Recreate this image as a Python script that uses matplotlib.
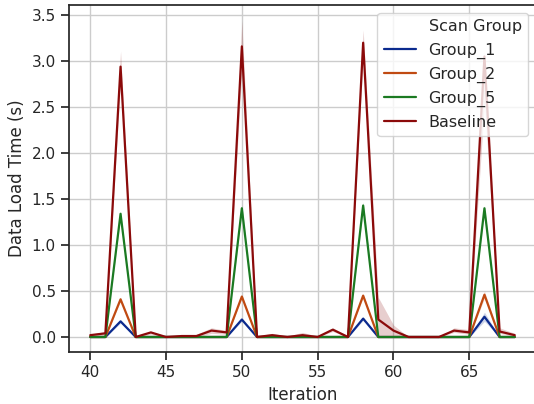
import numpy as np
import matplotlib
matplotlib.use("Agg")
import matplotlib.pyplot as plt
import seaborn as sns
from matplotlib.lines import Line2D

# Data: mean load time per iteration and confidence band per scan group
iterations = list(range(40, 69))

group1_mean = [0.0, 0.0, 0.17, 0.0, 0.0, 0.0, 0.0, 0.0, 0.0, 0.0,
               0.19, 0.0, 0.0, 0.0, 0.0, 0.0, 0.0, 0.0, 0.20, 0.0,
               0.0, 0.0, 0.0, 0.0, 0.0, 0.0, 0.22, 0.0, 0.0]
group1_lo = [0.0, 0.0, 0.15, 0.0, 0.0, 0.0, 0.0, 0.0, 0.0, 0.0,
             0.17, 0.0, 0.0, 0.0, 0.0, 0.0, 0.0, 0.0, 0.18, 0.0,
             0.0, 0.0, 0.0, 0.0, 0.0, 0.0, 0.17, 0.0, 0.0]
group1_hi = [0.0, 0.0, 0.19, 0.0, 0.0, 0.0, 0.0, 0.0, 0.0, 0.0,
             0.21, 0.0, 0.0, 0.0, 0.0, 0.0, 0.0, 0.0, 0.22, 0.0,
             0.0, 0.0, 0.0, 0.0, 0.0, 0.0, 0.27, 0.0, 0.0]

group2_mean = [0.0, 0.0, 0.41, 0.0, 0.0, 0.0, 0.0, 0.0, 0.0, 0.0,
               0.44, 0.0, 0.0, 0.0, 0.0, 0.0, 0.0, 0.0, 0.45, 0.0,
               0.0, 0.0, 0.0, 0.0, 0.0, 0.0, 0.46, 0.0, 0.0]
group2_lo = [0.0, 0.0, 0.39, 0.0, 0.0, 0.0, 0.0, 0.0, 0.0, 0.0,
             0.42, 0.0, 0.0, 0.0, 0.0, 0.0, 0.0, 0.0, 0.43, 0.0,
             0.0, 0.0, 0.0, 0.0, 0.0, 0.0, 0.42, 0.0, 0.0]
group2_hi = [0.0, 0.0, 0.43, 0.0, 0.0, 0.0, 0.0, 0.0, 0.0, 0.0,
             0.46, 0.0, 0.0, 0.0, 0.0, 0.0, 0.0, 0.0, 0.47, 0.0,
             0.0, 0.0, 0.0, 0.0, 0.0, 0.0, 0.50, 0.0, 0.0]

group5_mean = [0.0, 0.0, 1.34, 0.0, 0.0, 0.0, 0.0, 0.0, 0.0, 0.0,
               1.40, 0.0, 0.0, 0.0, 0.0, 0.0, 0.0, 0.0, 1.43, 0.0,
               0.0, 0.0, 0.0, 0.0, 0.0, 0.0, 1.40, 0.0, 0.0]
group5_lo = [0.0, 0.0, 1.31, 0.0, 0.0, 0.0, 0.0, 0.0, 0.0, 0.0,
             1.36, 0.0, 0.0, 0.0, 0.0, 0.0, 0.0, 0.0, 1.39, 0.0,
             0.0, 0.0, 0.0, 0.0, 0.0, 0.0, 1.37, 0.0, 0.0]
group5_hi = [0.0, 0.0, 1.37, 0.0, 0.0, 0.0, 0.0, 0.0, 0.0, 0.0,
             1.44, 0.0, 0.0, 0.0, 0.0, 0.0, 0.0, 0.0, 1.47, 0.0,
             0.0, 0.0, 0.0, 0.0, 0.0, 0.0, 1.43, 0.0, 0.0]

baseline_mean = [0.02, 0.04, 2.94, 0.0, 0.05, 0.0, 0.01, 0.01, 0.07, 0.05,
                 3.16, 0.0, 0.02, 0.0, 0.02, 0.0, 0.08, 0.0, 3.20, 0.19,
                 0.07, 0.0, 0.0, 0.0, 0.07, 0.05, 3.05, 0.06, 0.02]
baseline_lo = [0.01, 0.02, 2.78, 0.0, 0.03, 0.0, 0.0, 0.0, 0.04, 0.03,
               2.90, 0.0, 0.0, 0.0, 0.0, 0.0, 0.06, 0.0, 3.05, 0.0,
               0.01, 0.0, 0.0, 0.0, 0.05, 0.03, 2.55, 0.04, 0.01]
baseline_hi = [0.03, 0.06, 3.11, 0.0, 0.06, 0.0, 0.03, 0.03, 0.10, 0.07,
               3.44, 0.01, 0.04, 0.01, 0.05, 0.01, 0.10, 0.01, 3.34, 0.43,
               0.13, 0.0, 0.0, 0.0, 0.10, 0.08, 3.10, 0.10, 0.04]

groupNames = ["Group_1", "Group_2", "Group_5", "Baseline"]
groupColors = ["#0b2a8e", "#c04a12", "#1b7a22", "#8b0a0a"]

sns.set_theme(context="notebook", style="ticks",
              rc={"axes.grid": True, "grid.color": ".8"})

fig = plt.figure(figsize=(5.34, 4.04), dpi=100)
ax = fig.add_axes([69/534, 52/404, 467/534, 347/404])

series = [(group1_mean, group1_lo, group1_hi),
          (group2_mean, group2_lo, group2_hi),
          (group5_mean, group5_lo, group5_hi),
          (baseline_mean, baseline_lo, baseline_hi)]

handles = [Line2D([], [], color="none")]
labels = ["Scan Group"]
for (mean, lo, hi), name, color in zip(series, groupNames, groupColors):
    ax.fill_between(iterations, lo, hi, color=color, alpha=0.2, linewidth=0)
    line, = ax.plot(iterations, mean, color=color, linewidth=1.6)
    handles.append(line)
    labels.append(name)

ax.set_xlim(38.6, 69.4)
ax.set_ylim(-0.163, 3.61)
ax.set_xticks([40, 45, 50, 55, 60, 65])
ax.set_yticks(np.arange(0, 3.6, 0.5))

ax.set_xlabel("Iteration")
ax.set_ylabel("Data Load Time (s)")

ax.legend(handles, labels, loc="upper right", fontsize=11.5,
          labelspacing=0.5)

fig.savefig("out.png", dpi=100)
